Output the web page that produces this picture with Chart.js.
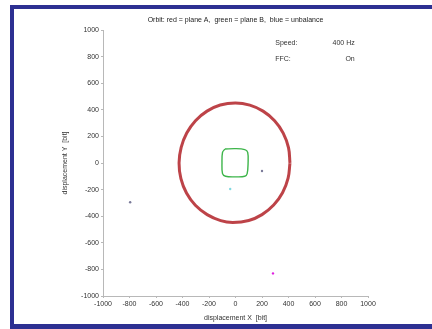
<!DOCTYPE html>
<html lang="en">
<head>
    <meta charset="UTF-8">
    <title>Orbit</title>
    <script src="https://cdn.jsdelivr.net/npm/chart.js"></script>
    <style>
        body {
            margin: 0;
            padding: 0;
            background: #ffffff;
            width: 432px;
            height: 329px;
            overflow: hidden;
            position: relative;
        }

        .frame {
            position: absolute;
            left: 10px;
            top: 5px;
            width: 440px;
            height: 315px;
            border-left: 4px solid #2d3092;
            border-top: 4px solid #2d3092;
            border-bottom: 5px solid #2d3092;
            background: #ffffff;
        }

        .chart-box {
            position: absolute;
            left: 0;
            top: 0;
            width: 432px;
            height: 329px;
        }
    </style>
</head>
<body>
    <div class="frame"></div>
    <div class="chart-box">
        <canvas id="orbitChart" width="432" height="329"></canvas>
    </div>

    <script>
        // Plane A orbit (red)
        const planeAX = [411, 400, 360, 295, 208, 108, 0, -115, -215, -302, -368, -410, -426, -412, -370, -303, -214, -112, -20, 100, 200, 288, 355, 397, 411];
        const planeAY = [0, 115, 225, 318, 390, 435, 452, 436, 390, 318, 225, 117, 0, -118, -226, -318, -388, -433, -447, -432, -388, -316, -224, -114, 0];

        // Plane B orbit (green)
        const planeBX = [-80, 0, 70, 92, 95, 88, 70, 0, -75, -98, -102, -98, -80];
        const planeBY = [105, 108, 100, 80, 0, -80, -100, -104, -100, -80, 0, 80, 105];

        // single points
        const unbalanceX = [-40];
        const unbalanceY = [-195];
        const markGrayX = [200, -795];
        const markGrayY = [-60, -295];
        const markMagentaX = [283];
        const markMagentaY = [-830];

        const axisMin = -1000;
        const axisMax = 1000;
        const axisStep = 200;

        const infoLabels = ['Speed:', 'FFC:'];
        const infoValues = ['400 Hz', 'On'];

        function toPoints(xs, ys) {
            return xs.map((x, i) => ({ x: x, y: ys[i] }));
        }

        // text box in the upper right corner
        const infoText = {
            id: 'infoText',
            afterDraw(chart) {
                const ctx = chart.ctx;
                const xs = chart.scales.x;
                const ys = chart.scales.y;
                ctx.save();
                ctx.font = '7px "Liberation Sans", Arial, sans-serif';
                ctx.fillStyle = '#333333';
                ctx.textBaseline = 'middle';
                const rowsY = [900, 780];
                infoLabels.forEach((lbl, i) => {
                    const py = ys.getPixelForValue(rowsY[i]);
                    ctx.textAlign = 'left';
                    ctx.fillText(lbl, xs.getPixelForValue(300), py);
                    ctx.textAlign = 'right';
                    ctx.fillText(infoValues[i], xs.getPixelForValue(900), py);
                });
                ctx.restore();
            }
        };

        const tickFont = { family: '"Liberation Sans", Arial, sans-serif', size: 7 };
        const plainTick = v => String(v);

        new Chart(document.getElementById('orbitChart'), {
            type: 'scatter',
            data: {
                datasets: [
                    {
                        label: 'plane A',
                        data: toPoints(planeAX, planeAY),
                        showLine: true,
                        borderColor: 'rgba(178, 34, 40, 0.85)',
                        borderWidth: 3,
                        pointRadius: 0,
                        tension: 0.4
                    },
                    {
                        label: 'plane B',
                        data: toPoints(planeBX, planeBY),
                        showLine: true,
                        borderColor: '#3db54a',
                        borderWidth: 1.4,
                        pointRadius: 0,
                        tension: 0.35
                    },
                    {
                        label: 'unbalance',
                        data: toPoints(unbalanceX, unbalanceY),
                        pointRadius: 1.2,
                        pointBackgroundColor: '#80d8e0',
                        pointBorderWidth: 0
                    },
                    {
                        label: 'gray',
                        data: toPoints(markGrayX, markGrayY),
                        pointRadius: 1.2,
                        pointBackgroundColor: '#7a7a99',
                        pointBorderWidth: 0
                    },
                    {
                        label: 'magenta',
                        data: toPoints(markMagentaX, markMagentaY),
                        pointRadius: 1.2,
                        pointBackgroundColor: '#e020e0',
                        pointBorderWidth: 0
                    }
                ]
            },
            options: {
                responsive: false,
                animation: false,
                layout: {
                    padding: { left: 61, right: 64, top: 10, bottom: 7 }
                },
                plugins: {
                    legend: { display: false },
                    tooltip: { enabled: false },
                    title: {
                        display: true,
                        fullSize: false,
                        text: 'Orbit: red = plane A,  green = plane B,  blue = unbalance',
                        color: '#222222',
                        font: { family: '"Liberation Sans", Arial, sans-serif', size: 7, weight: 'normal' },
                        padding: { top: 5.8, bottom: 5.8 }
                    }
                },
                scales: {
                    x: {
                        type: 'linear',
                        min: axisMin,
                        max: axisMax,
                        afterFit(scale) { scale.height = 26; },
                        ticks: { stepSize: axisStep, color: '#333333', font: tickFont, padding: 2, maxRotation: 0, callback: plainTick },
                        grid: { drawOnChartArea: false, tickLength: 2, color: '#b8b8b8' },
                        border: { color: '#b8b8b8', width: 1 },
                        title: {
                            display: true,
                            text: 'displacement X  [bit]',
                            color: '#333333',
                            font: tickFont,
                            padding: 0
                        }
                    },
                    y: {
                        type: 'linear',
                        min: axisMin,
                        max: axisMax,
                        afterFit(scale) { scale.width = 42; },
                        ticks: { stepSize: axisStep, color: '#333333', font: tickFont, padding: 2, callback: plainTick },
                        grid: { drawOnChartArea: false, tickLength: 2, color: '#b8b8b8' },
                        border: { color: '#b8b8b8', width: 1 },
                        title: {
                            display: true,
                            text: 'displacement Y  [bit]',
                            color: '#333333',
                            font: tickFont,
                            padding: 0
                        }
                    }
                }
            },
            plugins: [infoText]
        });
    </script>
</body>
</html>
